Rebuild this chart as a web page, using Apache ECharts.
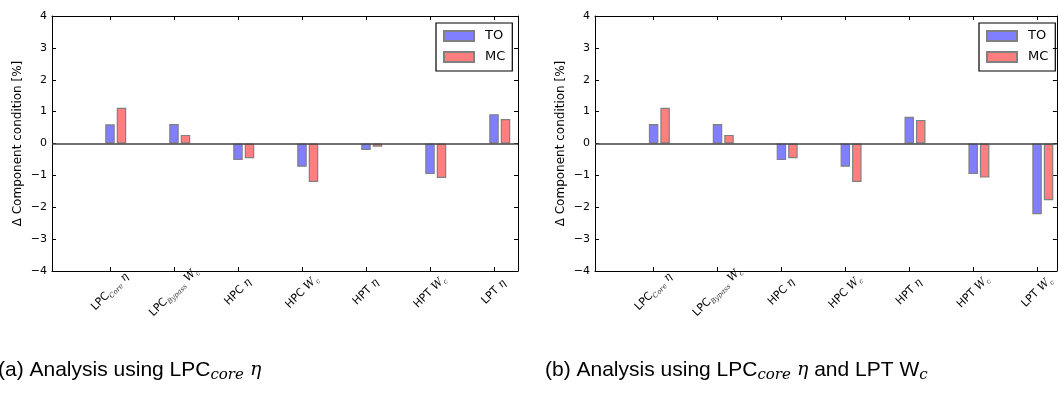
<!DOCTYPE html>
<html>
<head>
<meta charset="utf-8">
<script src="https://cdn.jsdelivr.net/npm/echarts@6/dist/echarts.min.js"></script>
<style>
html,body{margin:0;padding:0;background:#fff}
#chart{width:1058px;height:394px}
</style>
</head>
<body>
<div id="chart"></div>
<script>
const seriesNames = ["TO", "MC"]
const yTicks = [-4, -3, -2, -1, 0, 1, 2, 3, 4]

// [name, subscript, symbol, symbol subscript]
const catsA = [["LPC","Core","η",""], ["LPC","Bypass","W","c"], ["HPC","","η",""], ["HPC","","W","c"], ["HPT","","η",""], ["HPT","","W","c"], ["LPT","","η",""]]
const catsB = [["LPC","Core","η",""], ["LPC","Bypass","W","c"], ["HPC","","η",""], ["HPC","","W","c"], ["HPT","","η",""], ["HPT","","W","c"], ["LPT","","W","c"]]

const toA = [0.60, 0.61, -0.52, -0.73, -0.20, -0.96, 0.92]
const mcA = [1.12, 0.27, -0.46, -1.21, -0.10, -1.08, 0.77]
const toB = [0.61, 0.61, -0.52, -0.73, 0.84, -0.96, -2.22]
const mcB = [1.12, 0.27, -0.46, -1.21, 0.74, -1.07, -1.78]

// [style, text] pieces
const captionA = [["t", "(a) Analysis using LPC"], ["s", "core"], ["m", " η"]]
const captionB = [["t", "(b) Analysis using LPC"], ["s", "core"], ["m", " η"], ["t", " and LPT W"], ["s", "c"]]

const colors = {TO: "rgba(0,0,255,0.5)", MC: "rgba(255,0,0,0.5)"}
const sans = "DejaVu Sans"
const serif = "DejaVu Serif"

const labelRich = {
    a: {fontFamily: sans, fontSize: 11, color: "#000", lineHeight: 15},
    s: {fontFamily: serif, fontStyle: "italic", fontSize: 7, color: "#333", lineHeight: 8, verticalAlign: "bottom"},
    m: {fontFamily: serif, fontStyle: "italic", fontSize: 11, color: "#000", lineHeight: 15}
}
const capRich = {
    t: {fontFamily: "Liberation Sans", fontWeight: "normal", fontSize: 21, color: "#000", lineHeight: 26},
    s: {fontFamily: serif, fontWeight: "normal", fontStyle: "italic", fontSize: 15, color: "#000", lineHeight: 16, verticalAlign: "bottom"},
    m: {fontFamily: serif, fontWeight: "normal", fontStyle: "italic", fontSize: 19, color: "#000", lineHeight: 26}
}

const catLabel = c => {
    if (!c) return ""
    let s = "{a|" + c[0] + "}"
    if (c[1]) s += "{s|" + c[1] + "}"
    s += "{a| }{m|" + c[2] + "}"
    if (c[3]) s += "{s|" + c[3] + "}"
    return s
}
const capLabel = parts => parts.map(p => "{" + p[0] + "|" + p[1] + "}").join("")

const yFmt = v => v < 0 ? "\u2212" + Math.abs(v) : String(v)

const grids = [
    {left: 52, top: 16, width: 466, height: 255, xmin: -0.906, xmax: 6.375, cats: catsA, to: toA, mc: mcA, legendLeft: 436},
    {left: 595, top: 16, width: 462, height: 255, xmin: -0.917, xmax: 6.31, cats: catsB, to: toB, mc: mcB, legendLeft: 979}
]

const xAxisFor = (g, gi, top) => ({
    type: "value", gridIndex: gi, min: g.xmin, max: g.xmax,
    position: top ? "top" : "bottom",
    splitLine: {show: false},
    axisLine: {show: true, onZero: false, lineStyle: {color: "#000", width: 1}},
    axisTick: {show: true, inside: true, length: 4, customValues: g.cats.map((c, i) => i), lineStyle: {color: "#000"}},
    axisLabel: top ? {show: false} : {
        customValues: g.cats.map((c, i) => i),
        rotate: 45, align: "center", verticalAlign: "middle", margin: 21,
        formatter: v => catLabel(g.cats[Math.round(v)]),
        rich: labelRich
    }
})

const yAxisFor = (gi, right) => ({
    type: "value", gridIndex: gi, min: yTicks[0], max: yTicks[yTicks.length - 1], interval: 1,
    position: right ? "right" : "left",
    splitLine: {show: false},
    axisLine: {show: true, onZero: false, lineStyle: {color: "#000", width: 1}},
    axisTick: {show: true, inside: true, length: 4, lineStyle: {color: "#000"}},
    axisLabel: right ? {show: false} : {formatter: yFmt, fontFamily: sans, fontSize: 11, color: "#000", margin: 5},
    name: right ? "" : "Δ Component condition [%]",
    nameLocation: "middle", nameGap: 28, nameRotate: 90,
    nameTextStyle: {fontFamily: sans, fontSize: 12, color: "#000"}
})

const barSeries = (gi, name, vals) => ({
    type: "bar", name: name, xAxisIndex: gi * 2, yAxisIndex: gi * 2,
    barWidth: 9.5, barGap: "21%",
    data: vals.map((v, i) => [i, v]),
    itemStyle: {color: colors[name], borderColor: "#808080", borderWidth: 1.2},
    markLine: name === "TO" ? {
        silent: true, symbol: "none", label: {show: false},
        lineStyle: {color: "#444", width: 1.5, type: "solid"},
        data: [{yAxis: 0}]
    } : undefined
})

const series = []
grids.forEach((g, gi) => {
    // empty slot keeps TO on the tick and MC to its right
    series.push({type: "bar", name: "", xAxisIndex: gi * 2, yAxisIndex: gi * 2, barWidth: 9.5, barGap: "21%", data: []})
    series.push(barSeries(gi, "TO", g.to))
    series.push(barSeries(gi, "MC", g.mc))
})

const option = {
    animation: false,
    backgroundColor: "#fff",
    grid: grids.map(g => ({left: g.left, top: g.top, width: g.width, height: g.height})),
    xAxis: grids.flatMap((g, gi) => [xAxisFor(g, gi, false), xAxisFor(g, gi, true)]),
    yAxis: grids.flatMap((g, gi) => [yAxisFor(gi, false), yAxisFor(gi, true)]),
    legend: grids.map(g => ({
        orient: "vertical", left: g.legendLeft, top: 23,
        data: seriesNames, icon: "rect",
        itemWidth: 30, itemHeight: 10, itemGap: 7,
        padding: [6, 7, 7, 7],
        borderColor: "#000", borderWidth: 1.2,
        textStyle: {fontFamily: sans, fontSize: 13, color: "#000", lineHeight: 14, padding: [0, 0, 0, 6]}
    })),
    title: [
        {text: capLabel(captionA), left: -2, top: 357, padding: 0, textStyle: {fontWeight: "normal", rich: capRich}},
        {text: capLabel(captionB), left: 545, top: 357, padding: 0, textStyle: {fontWeight: "normal", rich: capRich}}
    ],
    series: series
}

const myChart = echarts.init(document.getElementById("chart"))
myChart.setOption(option)
</script>
</body>
</html>
